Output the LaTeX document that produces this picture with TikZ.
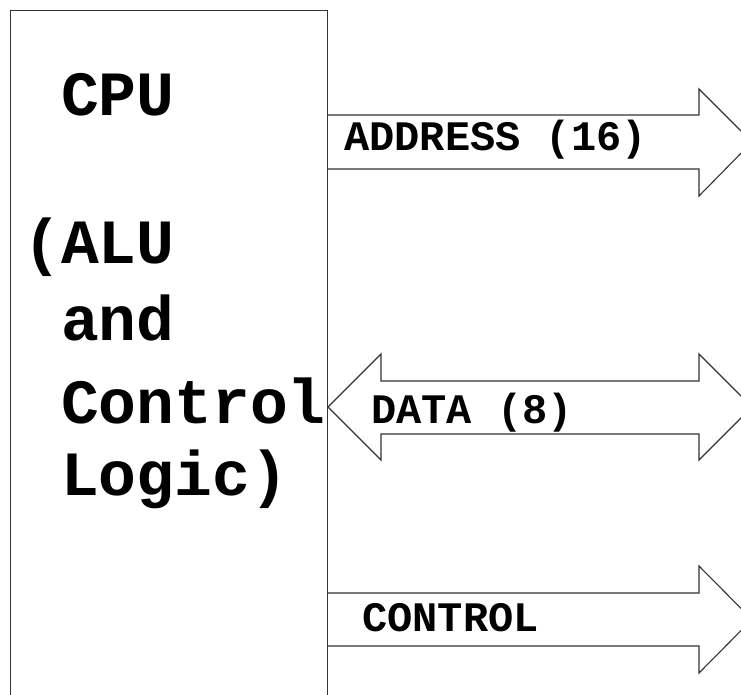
\documentclass[tikz,border=0pt]{standalone}
\usepackage{fontspec}
\setmonofont{Liberation Mono}
\tikzset{
  outline/.style={draw=black!80, line width=1.1pt, line join=miter},
  bigtxt/.style={anchor=base west, inner sep=0pt, font=\ttfamily\bfseries\fontsize{63}{63}\selectfont},
  bustxt/.style={anchor=base west, inner sep=0pt, font=\ttfamily\bfseries\fontsize{42}{42}\selectfont},
}
\begin{document}
\begin{tikzpicture}[x=1pt,y=-1pt]
\useasboundingbox (0,0) rectangle (741,694);
\fill[white] (0,0) rectangle (741,694);
\begin{scope}
\clip (0,0) rectangle (741,694);
% CPU box
\node[outline, anchor=north west, minimum width=317pt, minimum height=720pt, inner sep=0pt] (cpu) at (10,10) {};
% CPU text
\node[bigtxt] (t1) at (23,115) {\phantom{(}CPU};
\node[bigtxt] (t2) at (23,263) {(ALU};
\node[bigtxt] (t3) at (23,340) {\phantom{(}and};
\node[bigtxt] (t4) at (23,423) {\phantom{(}Control};
\node[bigtxt] (t5) at (23,495) {\phantom{(}Logic)};
% ADDRESS bus
\draw[outline] (327,115) -- (699,115) -- (699,89) -- (752,142) -- (699,196) -- (699,169) -- (327,169);
\node[bustxt] (addr) at (344,150) {ADDRESS (16)};
% DATA bus
\draw[outline] (381,381) -- (699,381) -- (699,354) -- (752,407) -- (699,460) -- (699,434) -- (381,434) -- (381,460) -- (328,407) -- (381,354) -- cycle;
\node[bustxt] (data) at (371,423) {DATA (8)};
% CONTROL bus
\draw[outline] (327,593) -- (699,593) -- (699,566) -- (752,619.5) -- (699,673) -- (699,646) -- (327,646);
\node[bustxt] (ctrl) at (362,631) {CONTROL};
\end{scope}
\end{tikzpicture}
\end{document}
